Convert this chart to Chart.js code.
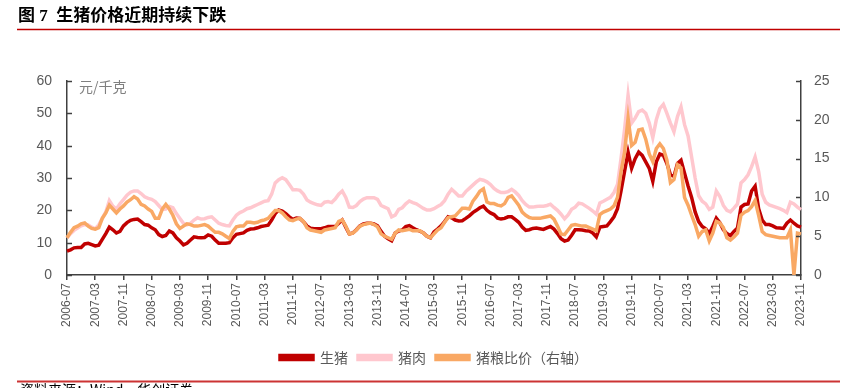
<!DOCTYPE html>
<html>
<head>
<meta charset="utf-8">
<script src="https://cdn.jsdelivr.net/npm/chart.js@4.4.1/dist/chart.umd.min.js"></script>
<style>
  html, body { margin: 0; padding: 0; background: #fff; }
  #wrap { position: relative; width: 842px; height: 388px; }
</style>
</head>
<body>
<div id="wrap"><canvas id="hog-price" width="842" height="388"></canvas></div>
<script>
// monthly points, 2006-07 .. 2023-11
const startYear = 2006, startMonth = 7, monthCount = 209;
const months = [];
for (let i = 0; i < monthCount; i++) {
  const t = startYear * 12 + (startMonth - 1) + i;
  months.push(Math.floor(t / 12) + '-' + String(t % 12 + 1).padStart(2, '0'));
}

const seriesNames = ['生猪', '猪肉', '猪粮比价（右轴）'];

// 生猪, 元/千克 (left axis)
const livePig = [
  7.4, 7.8, 8.4, 8.5, 8.5, 9.6, 9.8, 9.4, 9.0, 9.2,
  11.0, 12.8, 14.8, 14.0, 13.0, 13.5, 15.2, 16.2, 16.9, 17.2,
  17.3, 16.5, 15.6, 15.4, 14.6, 14.0, 12.5, 11.9, 12.2, 13.6,
  13.0, 11.5, 10.5, 9.3, 9.8, 10.8, 11.8, 11.6, 11.5, 11.6,
  12.4, 12.0, 10.8, 9.8, 9.8, 9.8, 10.0, 11.5, 12.6, 12.8,
  13.0, 13.8, 14.2, 14.3, 14.6, 15.0, 15.2, 15.4, 17.0, 19.0,
  20.1, 19.8, 19.0, 18.0, 17.2, 17.6, 17.5, 16.5, 15.2, 14.5,
  14.3, 14.3, 14.3, 14.6, 15.0, 15.0, 15.0, 16.0, 17.0, 14.8,
  12.7, 13.0, 14.0, 15.2, 15.8, 16.0, 16.0, 15.8, 15.2, 13.5,
  12.0, 11.2, 10.6, 13.0, 13.6, 13.9, 15.0, 15.3, 14.6, 14.0,
  13.6, 13.0, 12.0, 11.5, 13.3, 14.2, 15.2, 16.5, 18.0, 17.7,
  17.0, 16.7, 16.8, 17.5, 18.3, 19.3, 20.0, 20.8, 21.3, 20.0,
  19.2, 18.7, 17.6, 17.3, 17.5, 18.0, 18.0, 17.2, 16.3, 14.8,
  13.8, 14.0, 14.4, 14.5, 14.3, 14.1, 14.6, 15.0, 14.2, 12.8,
  11.2, 10.5, 10.8, 12.3, 14.0, 14.0, 13.9, 13.7, 13.6, 13.0,
  11.8, 14.8, 15.0, 15.2, 16.5, 18.0, 20.5, 26.0, 32.0, 38.0,
  33.0, 36.0, 38.0, 37.0, 35.0, 33.0, 29.0, 35.0, 37.4, 37.0,
  34.5, 31.0, 30.5, 34.5, 35.5, 31.5, 27.5, 24.0, 19.5, 16.5,
  15.0, 14.3, 12.8, 15.0, 17.6, 16.2, 14.0, 12.8, 12.2, 13.5,
  14.5, 21.0, 21.8, 22.0, 26.0, 27.5, 20.5, 17.0, 15.6, 15.6,
  15.2, 14.6, 14.5, 14.4, 16.0, 17.0, 16.0, 15.2, 14.8
];

// 猪肉, 元/千克 (left axis)
const pork = [
  11.5, 12.8, 13.8, 14.5, 15.2, 15.6, 15.5, 14.8, 14.3, 15.5,
  17.5, 19.5, 23.0, 21.3, 20.4, 22.0, 23.3, 24.7, 25.6, 26.0,
  26.0, 25.2, 24.2, 23.7, 23.4, 22.7, 21.5, 20.3, 20.4, 21.2,
  20.8, 19.0, 17.5, 16.0, 15.5, 16.0, 17.0, 17.7, 17.3, 17.4,
  17.8, 18.0, 17.0, 16.0, 15.6, 15.3, 15.2, 17.0, 18.5, 19.3,
  19.8, 20.5, 20.8, 21.3, 21.8, 22.3, 22.8, 23.0, 25.0, 28.5,
  29.5, 30.1, 29.5, 28.0, 26.4, 26.4, 26.2, 25.0, 23.2, 22.5,
  22.1, 21.7, 21.5, 22.5, 22.7, 22.4, 23.5, 25.0, 26.0, 24.0,
  21.0, 20.9, 21.5, 22.7, 23.5, 23.9, 23.9, 23.9, 23.4, 21.5,
  21.0, 20.5, 18.0, 18.5, 20.3, 20.8, 22.0, 22.9, 22.4, 22.0,
  21.3, 20.6, 20.1, 20.1, 20.5, 21.2, 21.8, 23.0, 25.0, 26.5,
  25.5, 24.4, 24.4, 25.8, 26.8, 27.8, 28.8, 29.6, 29.3, 28.8,
  28.0, 26.8, 26.0, 25.5, 25.5, 25.8, 26.5, 25.7, 24.6, 23.0,
  21.8, 21.0, 21.0, 21.2, 21.3, 21.3, 21.5, 21.9, 20.9, 20.0,
  18.8, 17.4, 18.6, 20.3, 21.0, 22.2, 22.0, 21.3, 20.6, 19.8,
  18.8, 22.3, 22.8, 23.4, 24.0, 25.5, 28.0, 36.0, 45.0, 55.6,
  47.0, 48.5, 50.5, 51.0, 50.0, 47.0, 42.5, 48.0, 51.5, 52.8,
  50.0, 47.0, 44.3, 49.0, 52.0, 46.5, 43.0, 36.5, 30.0, 24.5,
  22.8, 22.0, 20.3, 21.0, 26.0, 24.3, 21.5, 20.0, 19.5, 20.7,
  22.0, 28.5, 29.5, 31.0, 33.5, 36.5, 32.0, 25.0, 22.5, 21.7,
  21.3, 20.9, 20.5, 20.0, 19.3, 22.5, 22.0, 21.0, 20.2
];

// 猪粮比价 (right axis)
const hogGrainRatio = [
  4.8, 5.5, 6.1, 6.3, 6.6, 6.7, 6.3, 6.0, 5.9, 6.1,
  7.3, 8.0, 9.0, 8.5, 8.0, 8.5, 8.9, 9.4, 9.7, 10.1,
  9.8, 9.1, 8.9, 8.5, 8.2, 7.3, 7.3, 8.5, 9.1, 8.5,
  7.7, 6.6, 6.0, 6.3, 6.6, 6.5, 6.3, 6.3, 6.4, 6.5,
  6.3, 5.9, 5.5, 5.5, 5.3, 5.0, 4.7, 5.6, 6.2, 6.3,
  6.3, 6.8, 6.8, 6.7, 6.8, 7.0, 7.1, 7.3, 7.8, 8.3,
  8.3, 8.0, 7.5, 7.1, 7.0, 7.2, 7.3, 6.9, 6.1, 5.8,
  5.7, 5.6, 5.5, 5.8, 5.9, 6.0, 6.1, 6.9, 7.1, 6.3,
  5.3, 5.4, 5.8, 6.3, 6.5, 6.6, 6.7, 6.5, 6.2, 5.3,
  5.0, 4.8, 4.6, 5.4, 5.8, 5.7, 5.8, 5.9, 5.7, 5.7,
  5.7, 5.4, 5.0, 4.8, 5.3, 5.8, 6.1, 6.8, 7.4, 7.5,
  7.6, 8.1, 8.6, 8.6, 8.5, 9.5, 10.1, 10.8, 11.1, 9.4,
  9.2, 9.2, 9.0, 8.9, 9.2, 10.0, 10.2, 9.6, 9.0, 8.1,
  7.7, 7.4, 7.3, 7.3, 7.3, 7.4, 7.5, 7.6, 7.2, 6.3,
  5.3, 5.2, 5.8, 6.4, 6.5, 6.4, 6.3, 6.3, 6.1, 5.9,
  5.7, 7.8, 8.1, 8.3, 8.5, 8.9, 10.0, 13.3, 15.8, 20.2,
  16.7, 17.1, 18.7, 18.8, 17.5, 15.6, 14.6, 16.3, 16.9, 16.3,
  14.8, 11.9, 12.3, 14.2, 13.8, 10.0, 9.0, 7.7, 6.5, 5.0,
  5.6, 5.8, 4.4, 5.4, 6.9, 6.7, 6.1, 4.8, 4.5, 4.9,
  5.4, 7.7, 8.1, 8.3, 8.8, 9.6, 7.7, 5.6, 5.2, 5.1,
  5.0, 4.9, 4.8, 4.8, 4.8, 5.8, 0, 5.4, 5.3
];

const leftTicks = [0, 10, 20, 30, 40, 50, 60];
const rightTicks = [0, 5, 10, 15, 20, 25];

const axisColor = '#404040';
const labelColor = '#595959';

// title, rules, unit label and the small inward ticks on both value axes
const pageDecor = {
  id: 'pageDecor',
  beforeDraw(chart) {
    const c = chart.ctx;
    c.save();
    c.fillStyle = '#fff';
    c.fillRect(0, 0, chart.width, chart.height);

    c.fillStyle = '#000';
    c.font = 'bold 17px "Liberation Serif", "Noto Sans CJK SC"';
    c.textBaseline = 'middle';
    c.textAlign = 'left';
    c.fillText('图 7  生猪价格近期持续下跌', 18, 17);

    c.strokeStyle = '#C00000';
    c.lineWidth = 1.5;
    c.beginPath();
    c.moveTo(17, 29.5); c.lineTo(840, 29.5);
    c.stroke();

    c.strokeStyle = '#CC3333';
    c.lineWidth = 2;
    c.beginPath();
    c.moveTo(17, 381.5); c.lineTo(840, 381.5);
    c.stroke();

    c.fillStyle = '#000';
    c.font = '14px "Noto Sans CJK SC"';
    c.textBaseline = 'top';
    c.fillText('资料来源：Wind，华创证券', 20, 383);

    c.fillStyle = '#808080';
    c.font = '14px "Noto Sans CJK SC"';
    c.textBaseline = 'middle';
    c.fillText('元/千克', 79, 87);
    c.restore();
  },
  afterDraw(chart) {
    const c = chart.ctx;
    const area = chart.chartArea;
    c.save();
    c.strokeStyle = axisColor;
    c.lineWidth = 1.5;
    [['y', area.left, 5], ['y1', area.right, -5]].forEach(([id, x0, len]) => {
      const scale = chart.scales[id];
      scale.ticks.forEach(t => {
        const py = Math.round(scale.getPixelForValue(t.value)) + 0.5;
        c.beginPath();
        c.moveTo(x0, py); c.lineTo(x0 + len, py);
        c.stroke();
      });
    });
    c.restore();
  }
};

new Chart(document.getElementById('hog-price'), {
  type: 'line',
  data: {
    labels: months,
    datasets: [
      {
        label: seriesNames[0],
        data: livePig,
        yAxisID: 'y',
        borderColor: '#C00000',
        backgroundColor: '#C00000',
        borderWidth: 3.5,
        pointRadius: 0,
        order: 3
      },
      {
        label: seriesNames[1],
        data: pork,
        yAxisID: 'y',
        borderColor: '#FFC7CE',
        backgroundColor: '#FFC7CE',
        borderWidth: 3.5,
        pointRadius: 0,
        order: 2
      },
      {
        label: seriesNames[2],
        data: hogGrainRatio,
        yAxisID: 'y1',
        borderColor: '#F9A864',
        backgroundColor: '#F9A864',
        borderWidth: 3.5,
        pointRadius: 0,
        order: 1
      }
    ]
  },
  options: {
    responsive: false,
    animation: false,
    devicePixelRatio: 1,
    layout: { padding: { top: 81, left: 0, right: 0, bottom: 13.5 } },
    plugins: {
      tooltip: { enabled: false },
      legend: {
        position: 'bottom',
        fullSize: false,
        labels: {
          boxWidth: 33,
          boxHeight: 4,
          padding: 10,
          color: labelColor,
          font: { family: '"Noto Sans CJK SC"', size: 14 },
          sort: (a, b) => a.datasetIndex - b.datasetIndex
        }
      }
    },
    scales: {
      x: {
        type: 'category',
        offset: false,
        afterFit: s => { s.height = 65.5; },
        grid: {
          drawOnChartArea: false,
          drawTicks: true,
          tickLength: 5,
          color: axisColor,
          lineWidth: 1.5
        },
        border: { display: true, color: axisColor, width: 1.5 },
        ticks: {
          autoSkip: false,
          maxRotation: 90,
          minRotation: 90,
          padding: 3,
          color: labelColor,
          font: { family: '"Liberation Sans"', size: 12 },
          callback: (v, i) => (i % 8 === 0 ? months[i] : null)
        }
      },
      y: {
        position: 'left',
        min: leftTicks[0],
        max: leftTicks[leftTicks.length - 1],
        afterFit: s => { s.width = 67; },
        afterBuildTicks: s => { s.ticks = leftTicks.map(v => ({ value: v })); },
        grid: { display: false, drawTicks: false },
        border: { display: true, color: axisColor, width: 1.5 },
        ticks: {
          padding: 15,
          color: labelColor,
          font: { family: '"Liberation Sans"', size: 14 }
        }
      },
      y1: {
        position: 'right',
        min: rightTicks[0],
        max: rightTicks[rightTicks.length - 1],
        afterFit: s => { s.width = 41; },
        afterBuildTicks: s => { s.ticks = rightTicks.map(v => ({ value: v })); },
        grid: { display: false, drawTicks: false },
        border: { display: true, color: axisColor, width: 1.5 },
        ticks: {
          padding: 13,
          color: labelColor,
          font: { family: '"Liberation Sans"', size: 14 }
        }
      }
    }
  },
  plugins: [pageDecor]
});
</script>
</body>
</html>
